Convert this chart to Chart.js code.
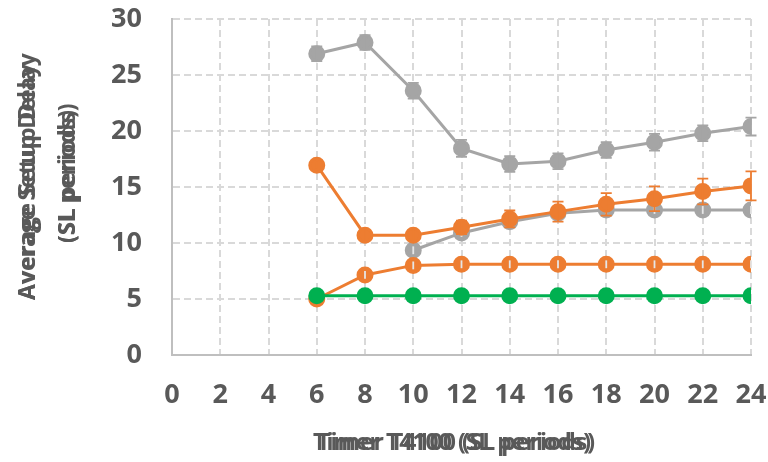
<!DOCTYPE html>
<html>
<head>
<meta charset="utf-8">
<script src="https://cdn.jsdelivr.net/npm/chart.js@4/dist/chart.umd.min.js"></script>
<style>
  html, body { margin: 0; padding: 0; background: #ffffff; }
  #wrap { width: 768px; height: 462px; position: relative; }
</style>
</head>
<body>
<div id="wrap"><canvas id="chart" width="768" height="462"></canvas></div>
<script>
// Timer T4100 values (SL periods)
const timerValues = [6, 8, 10, 12, 14, 16, 18, 20, 22, 24];

// Average setup delay, two configurations (grey)
const setupDelayHigh = [26.9, 27.9, 23.6, 18.45, 17.05, 17.3, 18.3, 19.0, 19.8, 20.4];
const setupDelayHighErr = [0.65, 0.65, 0.7, 0.75, 0.7, 0.7, 0.7, 0.75, 0.7, 0.8];
const setupDelayLow = [null, null, 9.35, 10.9, 11.9, 12.65, 12.95, 12.95, 12.95, 12.95];
const setupDelayLowErr = [0, 0, 0.35, 0.35, 0.35, 0.35, 0.35, 0.35, 0.35, 0.35];

// Average delay, two configurations (orange)
const delayHigh = [16.95, 10.7, 10.7, 11.4, 12.15, 12.8, 13.45, 13.95, 14.6, 15.1];
const delayHighErr = [0.3, 0.45, 0.4, 0.6, 0.75, 0.9, 1.0, 1.1, 1.15, 1.3];
const delayLow = [5.0, 7.15, 8.0, 8.1, 8.1, 8.1, 8.1, 8.1, 8.1, 8.1];
const delayLowErr = [0.35, 0.35, 0.35, 0.35, 0.35, 0.35, 0.35, 0.35, 0.35, 0.35];

// Reference delay (green)
const referenceDelay = [5.3, 5.3, 5.3, 5.3, 5.3, 5.3, 5.3, 5.3, 5.3, 5.3];

// Axis ticks
const xTicks = [0, 2, 4, 6, 8, 10, 12, 14, 16, 18, 20, 22, 24];
const yTicks = [0, 5, 10, 15, 20, 25, 30];

const GREY = '#A5A5A5';
const ORANGE = '#ED7D31';
const GREEN = '#00B050';
const TEXT = '#595959';
const FONT = '"Open Sans", "Liberation Sans", sans-serif';

function points(values) {
  return timerValues.map((t, i) => ({ x: t, y: values[i] }));
}

function series(label, values, color, errors, errColor) {
  return {
    label,
    data: points(values),
    borderColor: color,
    backgroundColor: color,
    pointBackgroundColor: color,
    pointBorderColor: color,
    pointRadius: 7,
    pointHoverRadius: 7,
    borderWidth: 3,
    tension: 0,
    spanGaps: false,
    errors,
    errColor
  };
}

// Vertical error bars with caps, drawn over each series' markers
const errorBars = {
  id: 'errorBars',
  afterDatasetDraw(chart, args) {
    const ds = chart.data.datasets[args.index];
    if (!ds.errors) return;
    const y = chart.scales.y;
    const ctx = chart.ctx;
    ctx.save();
    ctx.strokeStyle = ds.errColor;
    ctx.lineWidth = 1.8;
    args.meta.data.forEach((pt, i) => {
      const v = ds.data[i].y;
      const e = ds.errors[i];
      if (v === null || v === undefined || !e) return;
      const top = y.getPixelForValue(v + e);
      const bot = y.getPixelForValue(v - e);
      const cap = e < 0.5 ? 0 : 5.5;
      ctx.beginPath();
      ctx.moveTo(pt.x, top); ctx.lineTo(pt.x, bot);
      if (cap) {
        ctx.moveTo(pt.x - cap, top); ctx.lineTo(pt.x + cap, top);
        ctx.moveTo(pt.x - cap, bot); ctx.lineTo(pt.x + cap, bot);
      }
      ctx.stroke();
    });
    ctx.restore();
  }
};

// Axis titles, each printed twice with a slight shift
const axisTitles = {
  id: 'axisTitles',
  afterDraw(chart) {
    const ctx = chart.ctx;
    ctx.save();
    ctx.fillStyle = TEXT;
    ctx.textBaseline = 'middle';

    ctx.font = 'bold 23px ' + FONT;
    ctx.textAlign = 'center';
    ctx.fillText('Timer T4100 (SL periods)', 452, 443);
    ctx.fillText('Timer T4100 (SL periods)', 456, 443);

    ctx.font = 'bold 23px ' + FONT;
    ctx.textAlign = 'left';
    const lines = [
      { text: 'Average Setup Delay', x: 28, y: 300 },
      { text: '(SL periods)', x: 68, y: 243 }
    ];
    lines.forEach(l => {
      ctx.save();
      ctx.translate(l.x, l.y);
      ctx.rotate(-Math.PI / 2);
      ctx.letterSpacing = '0px';
      ctx.fillText(l.text, 0, 0);
      ctx.letterSpacing = '0.6px';
      ctx.fillText(l.text, 0, 0);
      ctx.restore();
    });
    ctx.restore();
  }
};

const gridStyle = {
  color: '#D9D9D9',
  lineWidth: 2,
  drawTicks: false
};

new Chart(document.getElementById('chart'), {
  type: 'line',
  data: {
    datasets: [
      series('Reference delay', referenceDelay, GREEN, null, null),
      series('Delay (low)', delayLow, ORANGE, delayLowErr, '#E6E6E6'),
      series('Delay (high)', delayHigh, ORANGE, delayHighErr, ORANGE),
      series('Setup delay (low)', setupDelayLow, GREY, setupDelayLowErr, '#E6E6E6'),
      series('Setup delay (high)', setupDelayHigh, GREY, setupDelayHighErr, GREY)
    ]
  },
  options: {
    responsive: false,
    animation: false,
    devicePixelRatio: 1,
    layout: { padding: { left: 0, top: 19, right: 17, bottom: 0 } },
    plugins: {
      legend: { display: false },
      tooltip: { enabled: false }
    },
    scales: {
      x: {
        type: 'linear',
        min: 0,
        max: 24,
        afterBuildTicks(scale) { scale.ticks = xTicks.map(v => ({ value: v })); },
        afterFit(scale) {
          scale.height = 107;
          scale.paddingLeft = 0; scale.paddingRight = 0;
        },
        grid: gridStyle,
        border: { display: true, color: '#BFBFBF', width: 2, dash: [7, 4] },
        ticks: {
          color: TEXT,
          padding: 24,
          maxRotation: 0,
          autoSkip: false,
          font: { family: FONT, size: 27, weight: 'bold' }
        }
      },
      y: {
        min: 0,
        max: 30,
        afterBuildTicks(scale) { scale.ticks = yTicks.map(v => ({ value: v })); },
        afterFit(scale) {
          scale.width = 172;
          scale.paddingTop = 0; scale.paddingBottom = 0;
        },
        grid: gridStyle,
        border: { display: true, color: '#BFBFBF', width: 2, dash: [7, 4] },
        ticks: {
          color: TEXT,
          padding: 30,
          autoSkip: false,
          font: { family: FONT, size: 27, weight: 'bold' }
        }
      }
    }
  },
  plugins: [errorBars, axisTitles]
});
</script>
</body>
</html>
